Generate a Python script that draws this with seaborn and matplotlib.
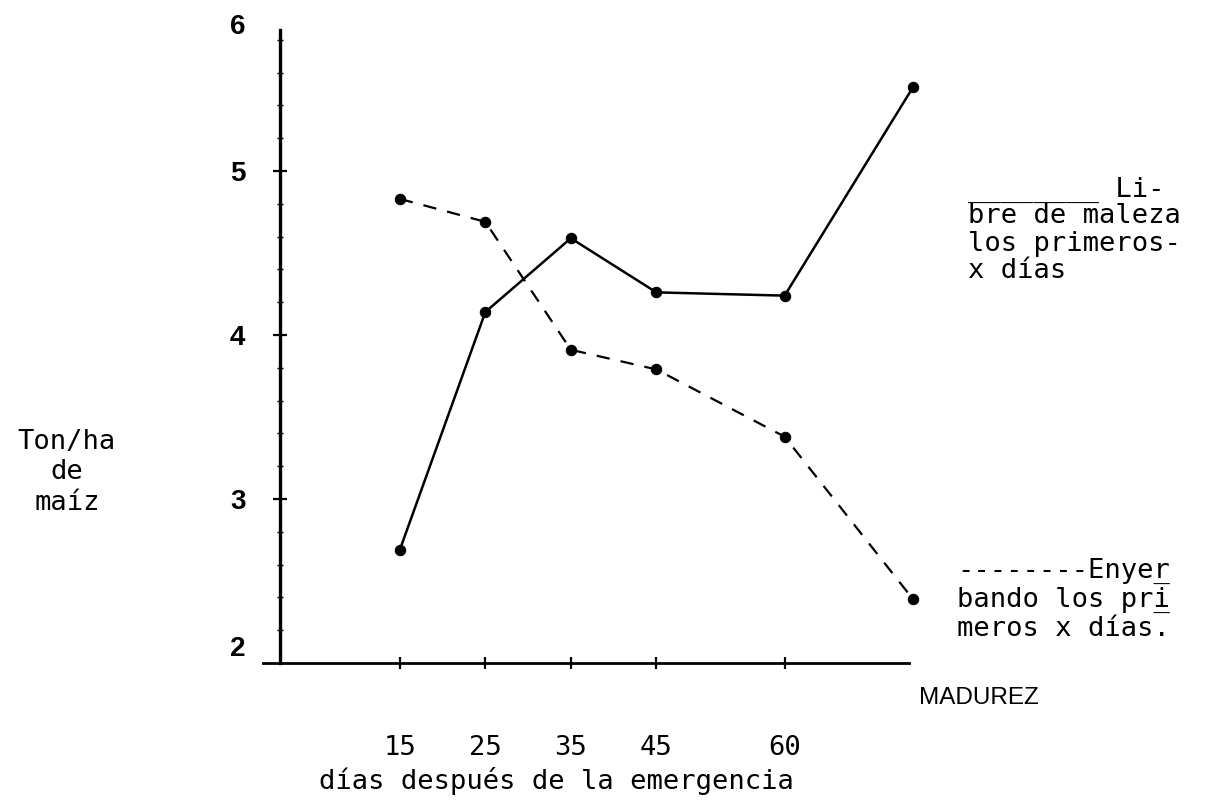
# plot.py
# Rendimiento de maiz (Ton/ha) segun los dias libre de maleza
# o enyerbando despues de la emergencia

# import required packages
import matplotlib
matplotlib.use("Agg")
import matplotlib.pyplot as plt
import matplotlib.transforms as mtransforms
from matplotlib.ticker import MultipleLocator
import pandas as pd
import seaborn as sns


# data (75 stands for "MADUREZ")
dias = [15, 25, 35, 45, 60, 75]
libre = [2.69, 4.14, 4.59, 4.26, 4.24, 5.51]
enyerbando = [4.83, 4.69, 3.91, 3.79, 3.38, 2.39]

# tick labels
dias_ticks = [15, 25, 35, 45, 60]
dias_labels = ["15", "25", "35", "45", "60"]
ton_ticks = [2, 3, 4, 5, 6]
ton_labels = ["2", "3", "4", "5", "6"]

df = pd.DataFrame({"dias": dias, "libre": libre, "enyerbando": enyerbando})

sns.set_style("ticks")
MONO = "DejaVu Sans Mono"
SANS = "Liberation Sans"
plt.rcParams["font.family"] = [MONO]
plt.rcParams["text.color"] = "black"
plt.rcParams["xtick.color"] = "black"
plt.rcParams["ytick.color"] = "black"
plt.rcParams["axes.edgecolor"] = "black"

W, H = 1206, 805
fig = plt.figure(figsize=(W / 100, H / 100), dpi=100)
ax = fig.add_axes([263 / W, 1 - 663 / H, 667 / W, 656 / H])


# helper: put a text line at pixel position (baseline)
def put(x, y, s, **kw):
    kw.setdefault("fontsize", 19.5)
    kw.setdefault("family", MONO)
    fig.text(x / W, 1 - y / H, s, va="baseline", color="black", **kw)


# both series
sns.lineplot(data=df, x="dias", y="libre", ax=ax, color="black", lw=1.8,
             marker="o", ms=7.5, mec="black")
sns.lineplot(data=df, x="dias", y="enyerbando", ax=ax, color="black", lw=1.6,
             linestyle=(0, (6, 5)), marker="o", ms=7.5, mec="black")

ax.set_xlim(-1, 77)
ax.set_ylim(2, 6)
ax.set_xlabel("")
ax.set_ylabel("")

# axes like the hand drawn ones
ax.spines["top"].set_visible(False)
ax.spines["right"].set_visible(False)
ax.spines["left"].set_position(("data", 1))
ax.spines["left"].set_bounds(2, 5.86)
ax.spines["left"].set_linewidth(2.4)
ax.spines["bottom"].set_bounds(-1, 74.6)
ax.spines["bottom"].set_linewidth(2.0)

ax.set_yticks(ton_ticks)
ax.set_yticklabels(ton_labels)
ax.yaxis.set_minor_locator(MultipleLocator(0.2))
ax.tick_params(axis="y", which="major", left=True, direction="inout", length=10, width=1.6, pad=20)
ax.tick_params(axis="y", which="minor", left=True, direction="inout", length=4, width=1)

ax.set_xticks(dias_ticks)
ax.set_xticklabels(dias_labels, family=MONO, fontsize=19.5)
ax.tick_params(axis="x", which="major", bottom=True, direction="inout", length=8, width=1.6, pad=48)

# no tick mark at 2 and 6, nudge their labels like the original
ticks = ax.yaxis.get_major_ticks()
ticks[0].tick1line.set_visible(False)
ticks[-1].tick1line.set_visible(False)
for lab in ax.get_yticklabels():
    lab.set_fontfamily(SANS)
    lab.set_fontweight("bold")
    lab.set_fontsize(20)
ax.get_yticklabels()[0].set_transform(
    ax.get_yticklabels()[0].get_transform()
    + mtransforms.ScaledTranslation(0, 12 / 72, fig.dpi_scale_trans))
ax.get_yticklabels()[-1].set_transform(
    ax.get_yticklabels()[-1].get_transform()
    + mtransforms.ScaledTranslation(0, -12 / 72, fig.dpi_scale_trans))

# y axis title
for yy, s in zip([449, 479, 510], ["Ton/ha", "de", "maíz"]):
    put(67, yy, s, ha="center")

# x axis title and the last category
put(556, 789, "días después de la emergencia", ha="center")
put(979, 704, "MADUREZ", ha="center", family=SANS, fontsize=17.5)

# legend, typed beside the chart
leyenda_a = ["________ Li-", "bre de maleza", "los primeros-", "x días"]
for yy, s in zip([197, 223, 251, 278], leyenda_a):
    put(968, yy, s)

leyenda_b = ["--------Enyer", "bando los pri", "meros x días."]
for yy, s in zip([578, 607, 636], leyenda_b):
    put(957, yy, s)
# underlines under "r" and "i"
put(957, 578, "            _")
put(957, 607, "            _")

fig.savefig("out.png", dpi=100)
